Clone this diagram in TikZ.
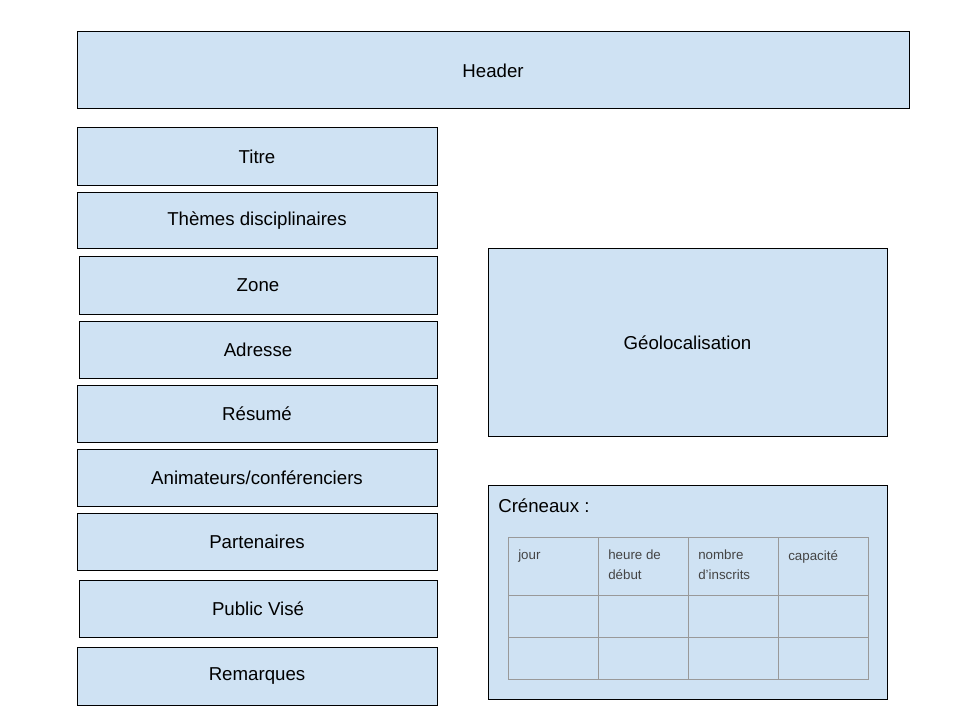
\documentclass[tikz,border=0pt]{standalone}
\usepackage{fontspec}
\setmainfont{Liberation Sans}
\definecolor{boxfill}{HTML}{CFE2F3}
\definecolor{gridgray}{HTML}{999999}
\definecolor{celltext}{HTML}{444444}
\begin{document}
\begin{tikzpicture}[x=0.75pt,y=-0.75pt,
  box/.style={draw=black, line width=0.75pt, fill=boxfill, inner sep=0pt,
    font=\fontsize{14}{16}\selectfont},
  celltxt/.style={anchor=north west, inner sep=0pt, align=left, text=celltext,
    font=\fontsize{10}{15}\selectfont},
  gridline/.style={draw=gridgray, line width=0.75pt}]
\useasboundingbox (0,0) rectangle (960,720);
\fill[white] (0,0) rectangle (960,720);
\newcommand\bx[6]{\node[box, minimum width={(#3-#1)*0.75pt}, minimum height={(#4-#2)*0.75pt}] (#5) at ({(#1+#3)/2},{(#2+#4)/2}) {#6};}
\bx{77}{32}{909}{109}{header}{Header}
\bx{77}{128}{437}{186}{titre}{Titre}
\bx{77}{193}{437}{249}{themes}{Thèmes disciplinaires}
\bx{79}{257}{437}{314}{zone}{Zone}
\bx{79}{321}{437}{378}{adresse}{Adresse}
\bx{77}{385}{437}{442}{resume}{Résumé}
\bx{77}{449}{437}{506}{anim}{Animateurs/conférenciers}
\bx{77}{513}{437}{570}{part}{Partenaires}
\bx{79}{580}{437}{637}{public}{Public Visé}
\bx{77}{647}{437}{705}{rem}{Remarques}
\bx{488}{249}{887}{436}{geo}{Géolocalisation}
\bx{488}{485}{887}{699}{creneaux}{}
\node[anchor=west, inner sep=0pt, font=\fontsize{14}{16}\selectfont] (crtitle) at (498,506) {Créneaux :};
% table
\draw[gridline] (508,537) rectangle (868,679);
\draw[gridline] (508,595) -- (868,595);
\draw[gridline] (508,637) -- (868,637);
\foreach \xx in {598,688,778} {\draw[gridline] (\xx,537) -- (\xx,679);}
\node[celltxt] (c1) at (518,550) {jour};
\node[celltxt] (c2) at (608,550) {heure de\\début};
\node[celltxt] (c3) at (698,550) {nombre\\d'inscrits};
\node[celltxt] (c4) at (788,550) {capacité};
\end{tikzpicture}
\end{document}
